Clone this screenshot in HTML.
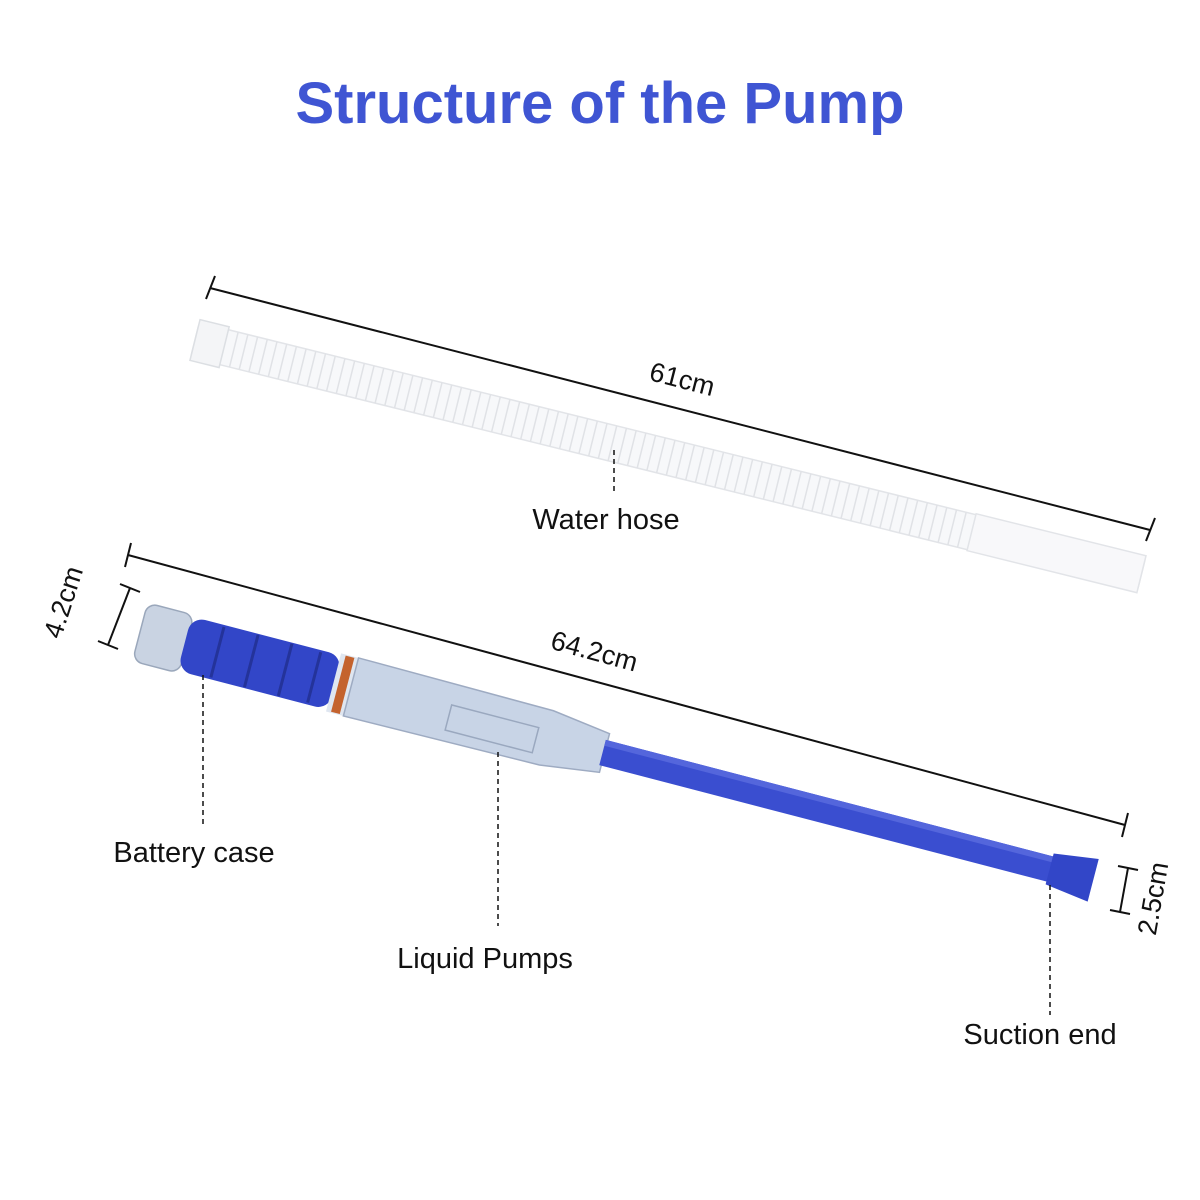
<!DOCTYPE html>
<html><head><meta charset="utf-8"><style>
html,body{margin:0;padding:0;background:#fff;}
svg{display:block;}
text{font-family:"Liberation Sans",Arial,sans-serif;}
</style></head><body>
<svg width="1200" height="1200" viewBox="0 0 1200 1200" xmlns="http://www.w3.org/2000/svg">
<rect width="1200" height="1200" fill="#fff"/>
<text x="600" y="123" text-anchor="middle" font-size="58" font-weight="bold" fill="#3f55d3">Structure of the Pump</text>

<!-- hose -->
<g transform="translate(195,340) rotate(13.9)">
  <rect x="0" y="-18" width="975" height="36" rx="4" fill="#f7f8fa" stroke="#e2e4e8" stroke-width="1.5"/>
  <rect x="0" y="-21" width="30" height="42" fill="#f4f5f7" stroke="#dcdfe3" stroke-width="1.5"/>
  <rect x="800" y="-19" width="175" height="38" fill="#f8f8fa" stroke="#e2e4e8" stroke-width="1.5"/>
  <g stroke="#e0e2e6" stroke-width="1.5">
    <path d="M40 -18V18M50 -18V18M60 -18V18M70 -18V18M80 -18V18M90 -18V18M100 -18V18M110 -18V18M120 -18V18M130 -18V18M140 -18V18M150 -18V18M160 -18V18M170 -18V18M180 -18V18M190 -18V18M200 -18V18M210 -18V18M220 -18V18M230 -18V18M240 -18V18M250 -18V18M260 -18V18M270 -18V18M280 -18V18M290 -18V18M300 -18V18M310 -18V18M320 -18V18M330 -18V18M340 -18V18M350 -18V18M360 -18V18M370 -18V18M380 -18V18M390 -18V18M400 -18V18M410 -18V18M420 -18V18M430 -18V18M440 -18V18M450 -18V18M460 -18V18M470 -18V18M480 -18V18M490 -18V18M500 -18V18M510 -18V18M520 -18V18M530 -18V18M540 -18V18M550 -18V18M560 -18V18M570 -18V18M580 -18V18M590 -18V18M600 -18V18M610 -18V18M620 -18V18M630 -18V18M640 -18V18M650 -18V18M660 -18V18M670 -18V18M680 -18V18M690 -18V18M700 -18V18M710 -18V18M720 -18V18M730 -18V18M740 -18V18M750 -18V18M760 -18V18M770 -18V18M780 -18V18M790 -18V18"/>
  </g>
</g>

<!-- 61cm dimension -->
<g stroke="#111" stroke-width="2" fill="none">
  <line x1="210" y1="288" x2="1150" y2="530"/>
  <line x1="215" y1="276" x2="206" y2="299"/>
  <line x1="1155" y1="518" x2="1146" y2="541"/>
</g>
<text x="680" y="388" text-anchor="middle" font-size="27" fill="#111" transform="rotate(14.4 680 388)">61cm</text>

<!-- pump -->
<g transform="translate(140,632) rotate(14.6)">
  <rect x="0" y="-30" width="48" height="60" rx="10" fill="#c9d3e2" stroke="#9aa7bb" stroke-width="1.5"/>
  <rect x="46" y="-28" width="156" height="56" rx="14" fill="#3246c8"/>
  <g stroke="#24339a" stroke-width="3"><path d="M80 -26V26M115 -27V27M150 -27V27M180 -26V26"/></g>
  <rect x="200" y="-30" width="20" height="60" fill="#dfe6f0"/>
  <rect x="205" y="-29" width="9" height="58" fill="#c4632e"/>
  <path d="M218 -30 L420 -28 L480 -20 L480 20 L420 28 L218 30 Z" fill="#c8d4e6" stroke="#9eabc2" stroke-width="1.5"/>
  <rect x="320" y="-8" width="90" height="26" fill="none" stroke="#9aa8bf" stroke-width="1.5"/>
  <rect x="478" y="-13" width="465" height="26" fill="#3a4ed0"/>
  <rect x="478" y="-13" width="465" height="6" fill="#5466dc"/>
  <path d="M940 -16 L985 -22 L985 22 L940 16 Z" fill="#3246c8"/>
</g>

<!-- 64.2cm dimension -->
<g stroke="#111" stroke-width="2" fill="none">
  <line x1="128" y1="555" x2="1125" y2="825"/>
  <line x1="131" y1="543" x2="125" y2="567"/>
  <line x1="1128" y1="813" x2="1122" y2="837"/>
</g>
<text x="592" y="660" text-anchor="middle" font-size="27" fill="#111" transform="rotate(15.2 592 660)">64.2cm</text>

<!-- 4.2cm -->
<g stroke="#111" stroke-width="2">
  <line x1="130" y1="588" x2="108" y2="645"/>
  <line x1="120" y1="584" x2="140" y2="592"/>
  <line x1="98" y1="641" x2="118" y2="649"/>
</g>
<text x="72" y="605" text-anchor="middle" font-size="27" fill="#111" transform="rotate(-72 72 605)">4.2cm</text>

<!-- 2.5cm -->
<g stroke="#111" stroke-width="2">
  <line x1="1128" y1="868" x2="1120" y2="912"/>
  <line x1="1118" y1="866" x2="1138" y2="870"/>
  <line x1="1110" y1="910" x2="1130" y2="914"/>
</g>
<text x="1162" y="900" text-anchor="middle" font-size="27" fill="#111" transform="rotate(-80 1162 900)">2.5cm</text>

<!-- leaders -->
<g stroke="#111" stroke-width="1.5" stroke-dasharray="5,4">
  <line x1="614" y1="450" x2="614" y2="495"/>
  <line x1="203" y1="675" x2="203" y2="828"/>
  <line x1="498" y1="752" x2="498" y2="926"/>
  <line x1="1050" y1="885" x2="1050" y2="1015"/>
</g>
<g font-size="29" fill="#111" text-anchor="middle">
  <text x="606" y="529">Water hose</text>
  <text x="194" y="862">Battery case</text>
  <text x="485" y="968">Liquid Pumps</text>
  <text x="1040" y="1044">Suction end</text>
</g>
</svg>
</body></html>
